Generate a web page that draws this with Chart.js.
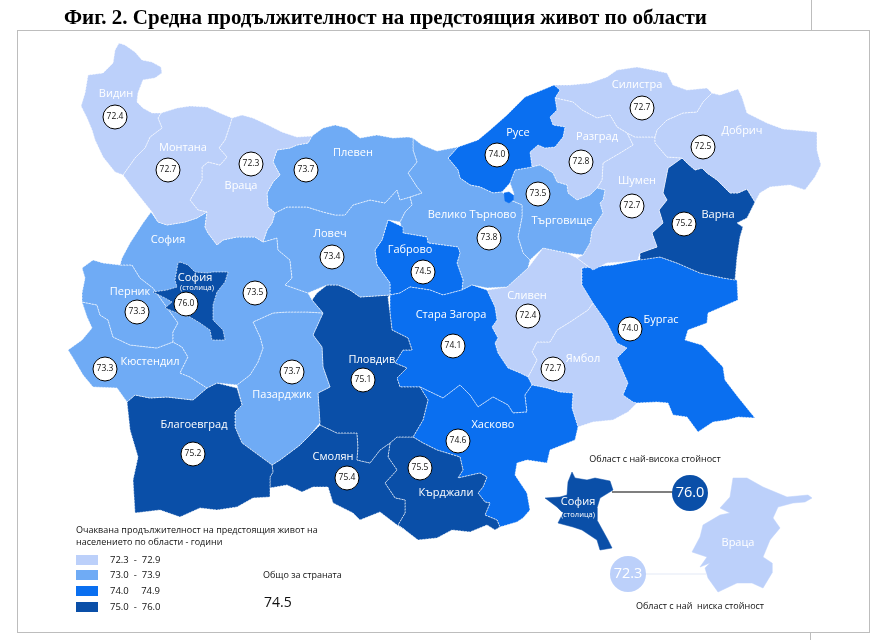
<!DOCTYPE html>
<html lang="bg">
<head>
<meta charset="utf-8">
<title>Фиг. 2</title>
<script src="https://cdn.jsdelivr.net/npm/chart.js@4/dist/chart.umd.min.js"></script>
<style>
  html, body { margin: 0; padding: 0; background: #fff; }
  canvas { display: block; }
</style>
</head>
<body>
<canvas id="mapa" width="879" height="640"></canvas>
<script>
// outlines, in map units
const vidin = [[119,43],[125,45],[135,52],[142,60],[152,62],[161,67],[162,73],[155,78],[143,80],[138,93],[137,102],[143,108],[152,113],[161,113],[158,118],[162,128],[150,137],[145,148],[135,158],[123,175],[115,172],[103,157],[95,140],[92,130],[87,118],[81,106],[85,93],[88,75],[103,73],[113,63],[115,50]];
const montana = [[161,113],[177,108],[190,106],[207,107],[220,113],[232,118],[230,125],[225,140],[219,148],[227,157],[220,165],[208,162],[202,167],[202,180],[190,200],[198,210],[207,212],[197,218],[185,222],[167,225],[158,222],[152,212],[140,197],[132,187],[123,175],[135,158],[145,148],[150,137],[162,128],[158,118]];
const vratsa = [[232,118],[242,115],[253,118],[268,125],[282,132],[297,137],[312,136],[308,143],[297,145],[290,148],[277,150],[273,162],[280,175],[273,182],[267,193],[268,207],[275,213],[272,223],[267,230],[263,242],[255,237],[237,237],[223,240],[217,245],[208,233],[205,227],[207,212],[198,210],[190,200],[202,180],[202,167],[208,162],[220,165],[227,157],[219,148],[225,140],[230,125]];
const pleven = [[312,136],[323,128],[335,125],[347,128],[360,138],[377,135],[393,138],[408,137],[413,138],[413,150],[417,162],[408,173],[417,187],[422,193],[410,197],[400,200],[397,190],[385,203],[370,200],[353,205],[345,215],[335,215],[323,212],[307,207],[287,207],[275,213],[268,207],[267,193],[273,182],[280,175],[273,162],[277,150],[290,148],[297,145],[308,143]];
const lovech = [[275,213],[287,207],[307,207],[323,212],[335,215],[345,215],[353,205],[370,200],[385,203],[397,190],[400,200],[410,197],[412,205],[405,212],[400,222],[388,220],[382,240],[375,250],[377,265],[390,283],[390,295],[360,297],[350,290],[338,285],[327,285],[308,293],[285,285],[292,278],[290,260],[278,250],[277,238],[263,242],[267,230],[272,223]];
const sofiaObl = [[151,212],[158,222],[167,225],[185,222],[197,218],[207,212],[205,227],[208,233],[217,245],[223,240],[237,237],[255,237],[263,242],[277,238],[278,250],[290,260],[292,278],[285,285],[308,293],[312,300],[323,313],[307,312],[287,312],[273,313],[253,322],[260,337],[263,348],[258,362],[250,375],[237,385],[217,383],[207,388],[190,377],[180,373],[188,357],[182,347],[173,342],[173,332],[178,323],[153,288],[140,278],[132,265],[120,265],[122,258],[130,243],[143,223]];
const sofiaGrad = [[180,262],[188,265],[195,272],[207,273],[213,272],[228,272],[225,282],[217,292],[213,305],[213,320],[223,330],[225,340],[212,340],[210,330],[200,323],[190,317],[177,313],[165,308],[172,302],[165,298],[153,292],[167,290],[177,287],[175,280],[178,263]];
const pernik = [[82,268],[93,260],[103,263],[120,265],[132,265],[140,278],[153,288],[178,323],[173,332],[173,342],[157,348],[130,345],[113,337],[108,320],[100,315],[97,305],[82,302],[82,293],[85,278]];
const kyustendil = [[82,302],[97,305],[100,315],[108,320],[113,337],[130,345],[157,348],[173,342],[182,347],[188,357],[180,373],[190,377],[207,388],[193,400],[167,397],[150,398],[135,395],[127,402],[117,388],[93,387],[83,375],[73,358],[68,350],[82,340],[92,328],[87,317]];
const blagoevgrad = [[127,402],[135,395],[150,398],[167,397],[193,400],[207,388],[217,383],[237,388],[242,405],[235,412],[235,427],[242,443],[272,465],[273,472],[270,477],[270,497],[253,498],[237,507],[217,510],[200,508],[180,517],[160,510],[135,513],[133,480],[138,457],[130,430]];
const pazardzhik = [[237,385],[250,375],[258,362],[263,348],[260,337],[253,322],[273,313],[287,312],[307,312],[323,313],[313,335],[322,347],[323,367],[330,387],[318,393],[320,423],[310,435],[300,445],[280,460],[272,465],[242,443],[235,427],[235,412],[242,405]];
const plovdiv = [[312,300],[317,293],[327,285],[338,285],[350,290],[360,297],[390,295],[388,297],[390,313],[392,330],[408,338],[412,350],[403,350],[395,363],[407,368],[397,378],[400,387],[420,387],[428,400],[423,420],[413,437],[397,437],[390,443],[380,450],[370,463],[357,460],[358,447],[357,433],[337,433],[320,425],[318,393],[330,387],[323,367],[322,347],[313,335],[323,313]];
const smolyan = [[272,465],[280,460],[300,445],[310,435],[320,425],[337,433],[357,433],[358,447],[357,460],[370,463],[380,450],[390,443],[388,457],[397,470],[385,483],[395,498],[405,500],[405,513],[398,525],[405,530],[397,525],[380,512],[360,520],[353,513],[333,503],[328,487],[313,487],[302,492],[287,485],[270,488],[270,477],[273,472]];
const kardzhali = [[413,437],[423,443],[437,450],[460,457],[463,470],[458,478],[480,473],[487,477],[483,487],[478,493],[485,502],[490,503],[485,515],[497,520],[500,527],[495,530],[487,525],[470,532],[452,530],[437,538],[418,540],[405,530],[398,525],[405,513],[405,500],[395,498],[385,483],[397,470],[388,457],[390,443],[397,437]];
const haskovo = [[420,387],[443,398],[460,385],[470,395],[478,407],[493,397],[508,405],[513,413],[527,412],[525,395],[532,385],[547,388],[560,392],[573,393],[572,408],[578,427],[575,440],[550,450],[547,463],[527,460],[517,463],[515,475],[527,493],[530,510],[523,518],[517,522],[500,527],[497,520],[485,515],[490,503],[485,502],[478,493],[483,487],[487,477],[480,473],[458,478],[463,470],[460,457],[437,450],[423,443],[413,437],[423,420],[428,400]];
const staraZagora = [[390,295],[400,293],[410,287],[430,290],[443,295],[462,290],[472,285],[487,290],[495,307],[497,320],[492,327],[498,338],[495,343],[498,353],[508,368],[520,373],[528,377],[532,385],[525,395],[527,412],[513,413],[508,405],[493,397],[478,407],[470,395],[460,385],[443,398],[420,387],[400,387],[397,378],[407,368],[395,363],[403,350],[412,350],[408,338],[392,330],[390,313]];
const gabrovo = [[388,220],[403,227],[403,233],[427,237],[428,243],[458,247],[460,253],[457,263],[463,280],[462,290],[443,295],[430,290],[410,287],[400,293],[390,295],[390,283],[377,265],[375,250],[382,240]];
const velikoTarnovo = [[413,138],[422,145],[437,151],[458,147],[448,158],[458,170],[460,178],[470,185],[480,187],[493,193],[502,192],[510,200],[522,205],[522,217],[518,237],[523,253],[530,260],[528,268],[507,287],[487,288],[472,285],[462,290],[463,280],[457,263],[460,253],[458,247],[428,243],[427,237],[403,233],[400,222],[405,212],[412,205],[410,197],[422,193],[417,187],[408,173],[417,162],[413,150]];
const ruse = [[448,158],[458,147],[478,140],[490,130],[507,115],[525,97],[547,88],[554,85],[560,90],[555,98],[557,110],[550,117],[553,125],[565,127],[563,137],[555,147],[545,148],[538,145],[530,152],[532,167],[515,170],[510,183],[502,192],[493,193],[480,187],[470,185],[460,178],[458,170]];
const targovishte = [[515,170],[532,167],[540,165],[553,173],[557,182],[567,185],[568,193],[577,200],[590,195],[597,188],[605,190],[603,200],[600,203],[603,213],[592,230],[590,243],[583,255],[567,253],[543,248],[530,260],[523,253],[518,237],[522,217],[522,205],[510,200],[514,194],[510,183]];
const razgrad = [[555,98],[573,102],[582,110],[597,118],[610,115],[617,127],[627,133],[633,145],[620,153],[603,163],[602,180],[597,188],[590,195],[577,200],[568,193],[567,185],[557,182],[553,173],[540,165],[532,167],[530,152],[538,145],[545,148],[555,147],[563,137],[565,127],[553,125],[550,117],[557,110]];
const silistra = [[554,85],[570,85],[590,83],[607,77],[617,70],[637,67],[653,70],[667,73],[673,85],[687,90],[707,88],[712,93],[703,102],[697,112],[683,113],[667,120],[657,130],[655,137],[635,137],[627,133],[617,127],[610,115],[597,118],[582,110],[573,102],[555,98],[560,90]];
const dobrich = [[712,93],[720,95],[738,89],[742,97],[747,113],[767,123],[783,129],[817,132],[817,150],[821,165],[815,177],[805,190],[790,185],[770,187],[760,193],[755,202],[747,189],[738,193],[730,193],[717,180],[707,173],[702,168],[695,170],[687,163],[682,158],[667,157],[655,143],[655,137],[657,130],[667,120],[683,113],[697,112],[703,102]];
const shumen = [[633,145],[627,133],[635,137],[655,137],[655,143],[667,157],[682,158],[668,168],[663,193],[667,200],[659,210],[663,223],[652,233],[657,247],[640,253],[638,260],[623,262],[607,263],[593,270],[577,258],[583,255],[590,243],[592,230],[603,213],[600,203],[603,200],[605,190],[597,188],[602,180],[603,163],[620,153]];
const varna = [[682,158],[687,163],[695,170],[702,168],[707,173],[717,180],[730,193],[738,193],[747,189],[755,202],[747,218],[737,223],[743,227],[740,237],[737,257],[735,280],[723,278],[700,273],[677,263],[660,257],[640,260],[640,253],[657,247],[652,233],[663,223],[659,210],[667,200],[663,193],[668,168]];
const burgas = [[582,268],[613,265],[638,260],[660,257],[677,263],[700,273],[723,278],[737,280],[738,300],[708,313],[707,323],[688,330],[685,340],[702,345],[723,367],[725,380],[738,397],[755,418],[738,417],[727,420],[713,422],[698,432],[687,417],[673,415],[668,403],[657,402],[637,403],[633,402],[623,395],[628,383],[617,358],[627,348],[617,343],[607,323],[593,303],[582,285]];
const sliven = [[487,290],[507,287],[528,268],[543,248],[567,253],[577,258],[593,270],[582,268],[582,285],[593,303],[588,310],[570,322],[557,330],[550,342],[537,342],[532,352],[537,360],[528,377],[520,373],[508,368],[498,353],[495,343],[498,338],[492,327],[497,320],[495,307]];
const yambol = [[593,303],[607,323],[617,343],[627,348],[617,358],[628,383],[623,395],[633,402],[637,403],[628,412],[613,420],[593,422],[578,427],[572,408],[573,393],[560,392],[547,388],[532,385],[528,377],[537,360],[532,352],[537,342],[550,342],[557,330],[570,322],[588,310]];
const sofiaInset = [[572,472],[575,478],[587,480],[595,478],[610,481],[613,490],[600,498],[597,508],[597,520],[608,540],[612,548],[600,550],[597,540],[582,530],[573,527],[558,523],[563,513],[557,507],[545,498],[560,497],[567,495],[568,482]];
const vratsaInset = [[733,478],[747,478],[763,487],[787,497],[808,495],[812,498],[805,502],[793,503],[778,507],[773,518],[780,528],[770,540],[763,557],[772,563],[772,573],[763,588],[752,583],[737,583],[718,592],[708,578],[705,568],[710,563],[700,567],[707,557],[692,552],[700,537],[703,525],[720,515],[730,513],[720,508],[730,497]];
const ruseIslet = [[504,193],[509,192],[513,195],[513,200],[509,203],[505,201]];

const regionNames = ['Видин','Монтана','Враца','Плевен','Ловеч','София','София','Перник','Кюстендил','Благоевград','Пазарджик','Пловдив','Смолян','Кърджали','Хасково','Стара Загора','Габрово','Велико Търново','Русе','Търговище','Разград','Силистра','Добрич','Шумен','Варна','Бургас','Сливен','Ямбол'];
const regionValues = [72.4,72.7,72.3,73.7,73.4,73.5,76.0,73.3,73.3,75.2,73.7,75.1,75.4,75.5,74.6,74.1,74.5,73.8,74.0,73.5,72.8,72.7,72.5,72.7,75.2,74.0,72.4,72.7];
const regionShapes = [vidin,montana,vratsa,pleven,lovech,sofiaObl,sofiaGrad,pernik,kyustendil,blagoevgrad,pazardzhik,plovdiv,smolyan,kardzhali,haskovo,staraZagora,gabrovo,velikoTarnovo,ruse,targovishte,razgrad,silistra,dobrich,shumen,varna,burgas,sliven,yambol];
const bubbleX = [115,168,251,306,332,255,186,137,105,193,292,363,347,420,458,453,423,489,497,538,581,642,703,632,684,630,528,553];
const bubbleY = [117,170,164,170,257,293,304,312,369,454,372,380,478,468,441,346,272,238,155,194,162,108,147,206,224,329,316,369];
const labelX = [116,183,241,353,330,168,195,130,150,194,282,372,333,446,493,451,410,472,518,562,597,637,742,637,718,661,527,583];
const labelY = [94,148,186,153,234,240,278,292,362,425,395,360,457,493,425,315,250,215,133,221,137,85,131,181,215,320,296,359];

const binLabels = ['72.3  -  72.9','73.0  -  73.9','74.0     74.9','75.0  -  76.0'];
const binLimits = [73,74,75,Infinity];
const binColors = ['#bcd0fa','#6fabf5','#0a6ff0','#0a4fa8'];
const countryValue = 74.5;

const colorOf = v => binColors[binLimits.findIndex(l => v < l)];
const toPoints = shape => [...shape, shape[0]].map(([x, y]) => ({x, y}));

const datasets = [];
const polygon = (shape, color, order, dashed) => datasets.push({
  type: 'scatter',
  data: toPoints(shape),
  showLine: true,
  fill: 'shape',
  backgroundColor: color,
  borderColor: dashed ? 'rgba(255,255,255,0.8)' : color,
  borderWidth: dashed ? 0.8 : 0.5,
  borderDash: dashed ? [2, 1] : [],
  pointRadius: 0,
  tension: 0,
  order
});

regionShapes.forEach((shape, i) => {
  polygon(shape, colorOf(regionValues[i]), shape === sofiaGrad ? 3 : 4, true);
});
polygon(ruseIslet, binColors[2], 3, false);
polygon(sofiaInset, binColors[3], 3, false);
polygon(vratsaInset, binColors[0], 3, false);

// callout lines between the insets and their value discs
datasets.push({type: 'scatter', data: [{x: 612, y: 492}, {x: 690, y: 492}], showLine: true, borderColor: '#000', borderWidth: 1.2, pointRadius: 0, order: 2});
datasets.push({type: 'scatter', data: [{x: 628, y: 574}, {x: 706, y: 574}], showLine: true, borderColor: '#e3e9f6', borderWidth: 1, pointRadius: 0, order: 2});

// value discs
datasets.push({
  type: 'scatter',
  data: bubbleX.map((x, i) => ({x, y: bubbleY[i]})),
  pointRadius: 12,
  pointBackgroundColor: '#fff',
  pointBorderColor: '#000',
  pointBorderWidth: 1,
  order: 1
});
datasets.push({type: 'scatter', data: [{x: 690, y: 493}], pointRadius: 18, pointBackgroundColor: binColors[3], pointBorderWidth: 0, order: 1});
datasets.push({type: 'scatter', data: [{x: 628, y: 574}], pointRadius: 18, pointBackgroundColor: binColors[0], pointBorderWidth: 0, order: 1});

const FONT = '"Open Sans", sans-serif';

const framePlugin = {
  id: 'frame',
  beforeDraw(chart) {
    const c = chart.ctx;
    c.save();
    c.strokeStyle = '#bdbdbd';
    c.lineWidth = 1;
    c.strokeRect(17.5, 30.5, 852, 602);
    c.beginPath();
    c.moveTo(811.5, 0); c.lineTo(811.5, 30);
    c.moveTo(810.5, 633); c.lineTo(810.5, 640);
    c.stroke();
    c.restore();
  }
};

const textPlugin = {
  id: 'texts',
  afterDatasetsDraw(chart) {
    const c = chart.ctx;
    const sx = chart.scales.x, sy = chart.scales.y;
    const put = (t, x, y, font, color, align) => {
      c.font = font;
      c.fillStyle = color;
      c.textAlign = align || 'center';
      c.textBaseline = 'middle';
      c.fillText(t, sx.getPixelForValue(x), sy.getPixelForValue(y));
    };
    c.save();
    regionNames.forEach((n, i) => put(n, labelX[i], labelY[i], '11px ' + FONT, '#fff'));
    put('(столица)', 197, 288, '7.5px ' + FONT, '#fff');
    regionValues.forEach((v, i) => put(v.toFixed(1), bubbleX[i], bubbleY[i], '8.5px ' + FONT, '#111'));

    put('София', 578, 502, '11px ' + FONT, '#fff');
    put('(столица)', 578, 515, '7.5px ' + FONT, '#fff');
    put('Враца', 738, 543, '11px ' + FONT, '#fff');
    put(regionValues[6].toFixed(1), 690, 493, '14.5px ' + FONT, '#fff');
    put(regionValues[2].toFixed(1), 628, 574, '14.5px ' + FONT, '#fff');
    put('Област с най-висока стойност', 655, 459, '9px ' + FONT, '#111');
    put('Област с най  ниска стойност', 700, 606, '9px ' + FONT, '#111');

    put('Очаквана продължителност на предстоящия живот на', 76, 530, '9px ' + FONT, '#111', 'left');
    put('населението по области - години', 76, 542, '9px ' + FONT, '#111', 'left');
    binLabels.forEach((t, i) => {
      const y = [560, 575, 591, 607][i];
      c.fillStyle = binColors[i];
      c.fillRect(76, y - 5, 22, 10);
      put(t, 110, y, '9.5px ' + FONT, '#111', 'left');
    });
    put('Общо за страната', 263, 575, '9px ' + FONT, '#111', 'left');
    put(countryValue.toFixed(1), 264, 603, '14px ' + FONT, '#111', 'left');

    put('Фиг. 2. Средна продължителност на предстоящия живот по области', 64, 19, 'bold 21px "Liberation Serif", serif', '#000', 'left');
    c.restore();
  }
};

new Chart(document.getElementById('mapa'), {
  data: {datasets},
  options: {
    responsive: false,
    animation: false,
    devicePixelRatio: 1,
    layout: {padding: 0, autoPadding: false},
    scales: {
      x: {type: 'linear', display: false, min: 0, max: 879},
      y: {type: 'linear', display: false, min: 0, max: 640, reverse: true}
    },
    plugins: {legend: {display: false}, tooltip: {enabled: false}, title: {display: false}}
  },
  plugins: [framePlugin, textPlugin]
});
</script>
</body>
</html>
